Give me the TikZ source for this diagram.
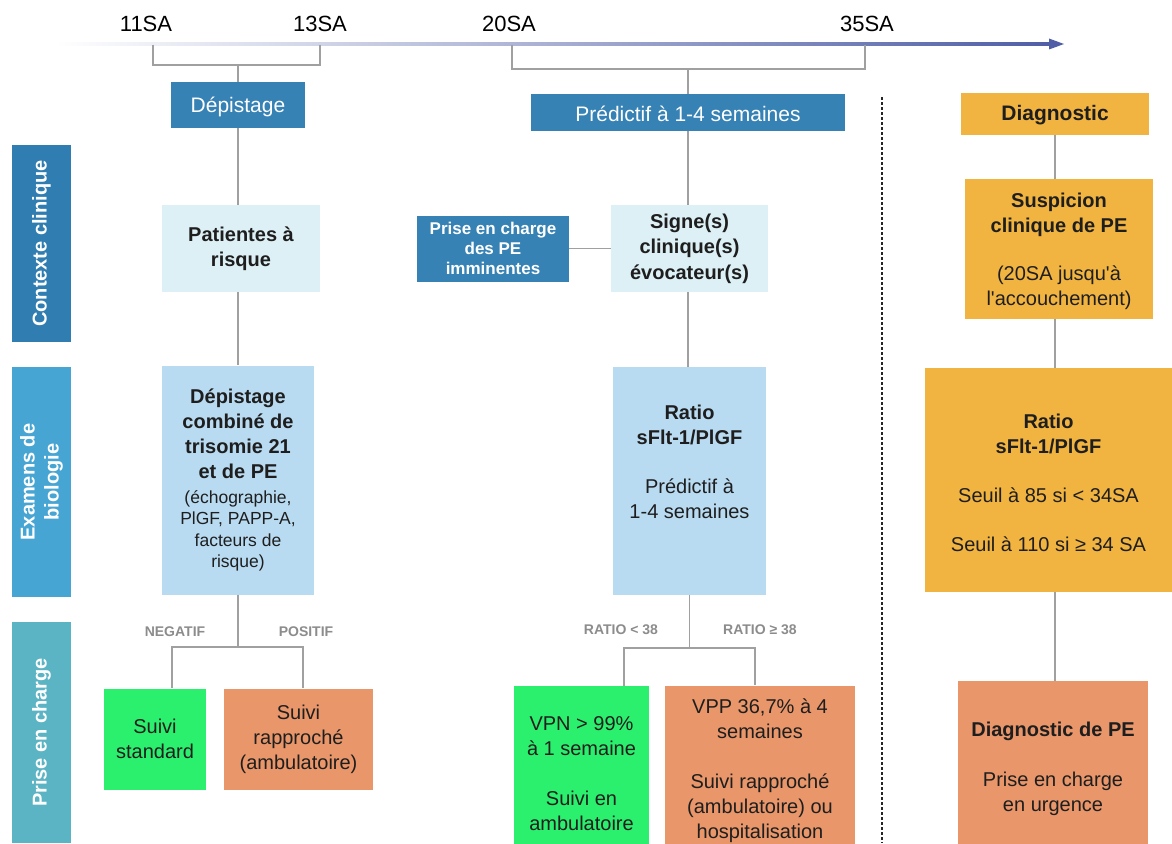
\documentclass[tikz,border=0pt]{standalone}
\usepackage{fontspec}
\setmainfont{Liberation Sans}[Ligatures=TeXOff]
\definecolor{hblue}{HTML}{3682B5}
\definecolor{cctx}{HTML}{2F7DB1}
\definecolor{cexa}{HTML}{46A5D3}
\definecolor{cpec}{HTML}{5BB4C4}
\definecolor{pale}{HTML}{DDF0F5}
\definecolor{lblue}{HTML}{B9DBF2}
\definecolor{cgreen}{HTML}{2BF06E}
\definecolor{corange}{HTML}{E8966A}
\definecolor{cyellow}{HTML}{F2B441}
\definecolor{lineg}{HTML}{A0A0A0}
\definecolor{tblue}{HTML}{4F5EA6}
\definecolor{txt}{HTML}{1E1E1E}
\definecolor{lblg}{HTML}{8C8C8C}
\newcommand\ftB{\fontsize{20}{25}\selectfont\bfseries}
\newcommand\ftR{\fontsize{20}{25}\selectfont\mdseries}
\newcommand\ftS{\fontsize{17.5}{25}\selectfont\mdseries}
\begin{document}
\begin{tikzpicture}[x=1pt,y=-1pt,
  every node/.style={inner sep=0pt, align=center, text=txt},
  conn/.style={draw=lineg, line width=1.5pt},
  wh/.style 2 args={minimum width=#1, minimum height=#2},
  head/.style={fill=hblue, text=white, font=\fontsize{21}{25}\selectfont},
  side/.style={fill=#1, rotate=90, text=white, font=\bfseries\fontsize{20}{24}\selectfont},
  lbl/.style={text=lblg, font=\bfseries\fontsize{14}{16}\selectfont},
  tl/.style={text=black, font=\fontsize{22}{26}\selectfont}]
\useasboundingbox (0,0) rectangle (1172,843);
\clip (0,0) rectangle (1172,843);
\fill[white] (0,0) rectangle (1172,843);

% timeline
\coordinate (tstart) at (55,44);
\coordinate (tend) at (1064,44);
\shade[left color=white, right color=tblue] (55,42.8) rectangle (1051,45.2);
\fill[tblue] (1049,38.5) -- (tend) -- (1049,49.5) -- cycle;
\node[tl] (l11) at (146,24) {11SA};
\node[tl] (l13) at (320,24) {13SA};
\node[tl] (l20) at (509,24) {20SA};
\node[tl] (l35) at (867,24) {35SA};
\coordinate (t11) at (153,45);
\coordinate (t13) at (320,45);
\coordinate (t20) at (512,45);
\coordinate (t35) at (865,45);
\coordinate (b1) at (238,65);
\coordinate (b2) at (688,69);

% headers
\node[head, wh={134pt}{46pt}] (dep) at (238,105) {\rule{0pt}{19pt}Dépistage};
\node[head, wh={314pt}{37pt}] (pred) at (688,112.5) {\rule{0pt}{18pt}Prédictif à 1-4 semaines};
\node[fill=cyellow, wh={188pt}{42pt}, font=\fontsize{21}{25}\selectfont\bfseries] (diag) at (1055,114) {\rule{0pt}{18pt}Diagnostic};

\draw[conn] (t11) |- (b1) -| (t13);
\draw[conn] (b1) -- (dep.north);
\draw[conn] (t20) |- (b2) -| (t35);
\draw[conn] (b2) -- (pred.north);

% dashed separator
\coordinate (d1) at (882,97);
\coordinate (d2) at (882,843);
\draw[black!85, line width=2pt, dash pattern=on 3pt off 2pt] (d1) -- (d2);

% side bars
\node[side=cctx, wh={197pt}{59pt}] (ctx) at (41.5,243.5) {Contexte clinique};
\node[side=cexa, wh={230pt}{59pt}] (exa) at (41.5,482) {Examens de\\biologie};
\node[side=cpec, wh={221pt}{59pt}] (pec) at (41.5,732.5) {Prise en charge};

% left column
\node[fill=pale, wh={158pt}{87pt}, font=\ftB] (pat) at (241,248.5) {Patientes à\\risque};
\node[fill=lblue, wh={152pt}{229pt}, font=\ftB] (dc) at (238,480)
  {Dépistage\\combiné de\\trisomie 21\\et de PE\\[-0.5pt]\ftS (échographie,\\[-3.5pt]\ftS PlGF, PAPP-A,\\[-3.5pt]\ftS facteurs de\\[-3.5pt]\ftS risque)};
\draw[conn] (dep.south) -- (dep.south |- pat.north);
\draw[conn] (dep.south |- pat.south) -- (dep.south |- dc.north);
\coordinate (j1) at (238,647);
\draw[conn] (dc.south) -- (j1);
\node[fill=cgreen, wh={102pt}{101pt}, font=\ftR] (ss) at (155,739) {Suivi\\standard};
\node[fill=corange, wh={149pt}{101pt}, font=\ftR] (sr) at (298.5,739) {Suivi\\rapproché\\(ambulatoire)};
\draw[conn] ([xshift=17pt]ss.north) |- (j1) -| ([xshift=4.5pt]sr.north);
\node[lbl] (neg) at (175,632) {NEGATIF};
\node[lbl] (pos) at (306,632) {POSITIF};

% middle column
\node[fill=hblue, wh={152pt}{66pt}, text=white, font=\bfseries\fontsize{17}{20}\selectfont] (imm) at (493,248.5) {Prise en charge\\des PE\\imminentes};
\node[fill=pale, wh={157pt}{87pt}, font=\fontsize{20}{25.5}\selectfont\bfseries] (sig) at (689.5,248.5) {Signe(s)\\clinique(s)\\évocateur(s)};
\draw[conn] (imm.east) -- (sig.west);
\node[fill=lblue, wh={153pt}{228pt}] (rm) at (689.5,481) {};
\node[font=\ftB] (rmt) at (689.5,462) {Ratio\\sFlt-1/PlGF\\[24pt]\ftR Prédictif à\\\ftR 1-4 semaines};
\draw[conn] (pred.south) -- (pred.south |- sig.north);
\draw[conn] (pred.south |- sig.south) -- (pred.south |- rm.north);
\coordinate (j2) at (689.5,648);
\draw[conn] (rm.south) -- (j2);
\node[fill=cgreen, wh={135pt}{176pt}, font=\ftR] (vpn) at (581.5,774) {VPN > 99\%\\à 1 semaine\\[25pt]Suivi en\\ambulatoire};
\node[fill=corange, wh={190pt}{171pt}, font=\ftR] (vpp) at (760,771) {VPP 36,7\% à 4\\semaines\\[25pt]Suivi rapproché\\(ambulatoire) ou\\hospitalisation};
\draw[conn] ([xshift=42.5pt]vpn.north) |- (j2) -| ([xshift=-5pt]vpp.north);
\node[lbl] (rlo) at (621,630) {RATIO < 38};
\node[lbl] (rhi) at (760,630) {RATIO ≥ 38};

% right column
\node[fill=cyellow, wh={188pt}{140pt}, font=\ftB] (sus) at (1059,249)
  {\rule{0pt}{19pt}Suspicion\\clinique de PE\\[23pt]\ftR (20SA jusqu'à\\\ftR l'accouchement)};
\node[fill=cyellow, wh={247pt}{224pt}, font=\ftB] (rr) at (1048.5,480)
  {\rule{0pt}{21pt}Ratio\\sFlt-1/PlGF\\[24pt]\ftR Seuil à 85 si < 34SA\\[24pt]\ftR Seuil à 110 si ≥ 34 SA};
\node[fill=corange, wh={190pt}{170pt}, font=\ftB] (dpe) at (1053,766)
  {\rule{0pt}{20pt}Diagnostic de PE\\[25pt]\ftR Prise en charge\\\ftR en urgence};
\draw[conn] (diag.south) -- (diag.south |- sus.north);
\draw[conn] (diag.south |- sus.south) -- (diag.south |- rr.north);
\draw[conn] (diag.south |- rr.south) -- (diag.south |- dpe.north);
\end{tikzpicture}
\end{document}
